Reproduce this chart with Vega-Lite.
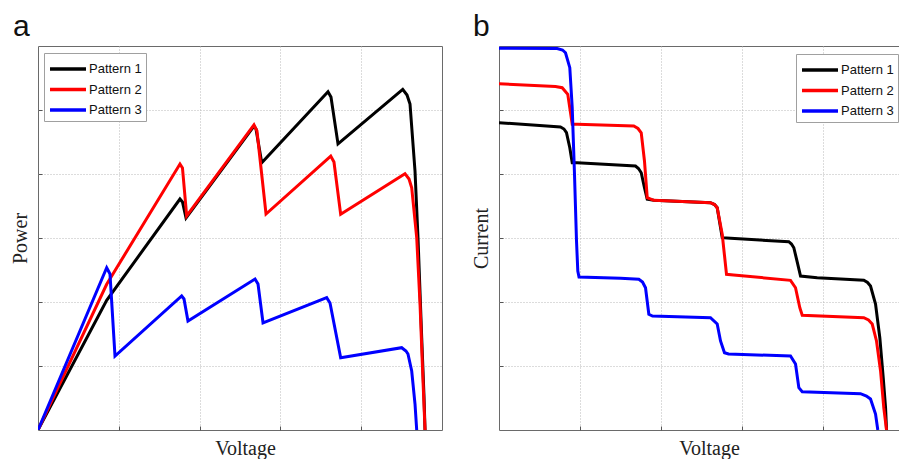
{
  "$schema": "https://vega.github.io/schema/vega-lite/v6.json",
  "padding": {"left": 10, "top": 11, "right": 0, "bottom": 0},
  "autosize": {"type": "pad"},
  "background": "white",
  "bounds": "flush",
  "spacing": 57,
  "datasets": {
    "pv": [
      {"pattern": "Pattern 1", "voltage": 0, "power": 0},
      {"pattern": "Pattern 1", "voltage": 0.850, "power": 2.027},
      {"pattern": "Pattern 1", "voltage": 1.757, "power": 3.609},
      {"pattern": "Pattern 1", "voltage": 1.788, "power": 3.5625},
      {"pattern": "Pattern 1", "voltage": 1.832, "power": 3.3125},
      {"pattern": "Pattern 1", "voltage": 2.673, "power": 4.75},
      {"pattern": "Pattern 1", "voltage": 2.698, "power": 4.703},
      {"pattern": "Pattern 1", "voltage": 2.769, "power": 4.177},
      {"pattern": "Pattern 1", "voltage": 3.589, "power": 5.286},
      {"pattern": "Pattern 1", "voltage": 3.626, "power": 5.203},
      {"pattern": "Pattern 1", "voltage": 3.713, "power": 4.469},
      {"pattern": "Pattern 1", "voltage": 4.514, "power": 5.323},
      {"pattern": "Pattern 1", "voltage": 4.567, "power": 5.234},
      {"pattern": "Pattern 1", "voltage": 4.604, "power": 5.094},
      {"pattern": "Pattern 1", "voltage": 4.666, "power": 4.047},
      {"pattern": "Pattern 1", "voltage": 4.703, "power": 3.0},
      {"pattern": "Pattern 1", "voltage": 4.749, "power": 1.4375},
      {"pattern": "Pattern 1", "voltage": 4.777, "power": 0.531},
      {"pattern": "Pattern 1", "voltage": 4.790, "power": 0},
      {"pattern": "Pattern 2", "voltage": 0, "power": 0},
      {"pattern": "Pattern 2", "voltage": 0.850, "power": 2.277},
      {"pattern": "Pattern 2", "voltage": 1.757, "power": 4.156},
      {"pattern": "Pattern 2", "voltage": 1.788, "power": 4.094},
      {"pattern": "Pattern 2", "voltage": 1.840, "power": 3.344},
      {"pattern": "Pattern 2", "voltage": 2.673, "power": 4.766},
      {"pattern": "Pattern 2", "voltage": 2.710, "power": 4.672},
      {"pattern": "Pattern 2", "voltage": 2.822, "power": 3.375},
      {"pattern": "Pattern 2", "voltage": 3.623, "power": 4.281},
      {"pattern": "Pattern 2", "voltage": 3.663, "power": 4.188},
      {"pattern": "Pattern 2", "voltage": 3.746, "power": 3.370},
      {"pattern": "Pattern 2", "voltage": 4.542, "power": 4.005},
      {"pattern": "Pattern 2", "voltage": 4.592, "power": 3.922},
      {"pattern": "Pattern 2", "voltage": 4.625, "power": 3.786},
      {"pattern": "Pattern 2", "voltage": 4.687, "power": 3.005},
      {"pattern": "Pattern 2", "voltage": 4.728, "power": 1.969},
      {"pattern": "Pattern 2", "voltage": 4.765, "power": 0.766},
      {"pattern": "Pattern 2", "voltage": 4.790, "power": 0},
      {"pattern": "Pattern 3", "voltage": 0, "power": 0},
      {"pattern": "Pattern 3", "voltage": 0.850, "power": 2.536},
      {"pattern": "Pattern 3", "voltage": 0.891, "power": 2.4375},
      {"pattern": "Pattern 3", "voltage": 0.953, "power": 1.156},
      {"pattern": "Pattern 3", "voltage": 1.778, "power": 2.094},
      {"pattern": "Pattern 3", "voltage": 1.807, "power": 2.047},
      {"pattern": "Pattern 3", "voltage": 1.856, "power": 1.703},
      {"pattern": "Pattern 3", "voltage": 2.686, "power": 2.359},
      {"pattern": "Pattern 3", "voltage": 2.723, "power": 2.281},
      {"pattern": "Pattern 3", "voltage": 2.785, "power": 1.672},
      {"pattern": "Pattern 3", "voltage": 3.573, "power": 2.067},
      {"pattern": "Pattern 3", "voltage": 3.614, "power": 1.984},
      {"pattern": "Pattern 3", "voltage": 3.746, "power": 1.130},
      {"pattern": "Pattern 3", "voltage": 4.501, "power": 1.286},
      {"pattern": "Pattern 3", "voltage": 4.554, "power": 1.234},
      {"pattern": "Pattern 3", "voltage": 4.579, "power": 1.1875},
      {"pattern": "Pattern 3", "voltage": 4.625, "power": 0.922},
      {"pattern": "Pattern 3", "voltage": 4.666, "power": 0.406},
      {"pattern": "Pattern 3", "voltage": 4.687, "power": 0}
    ],
    "iv": [
      {"pattern": "Pattern 1", "voltage": 0, "current": 4.802},
      {"pattern": "Pattern 1", "voltage": 0.760, "current": 4.734},
      {"pattern": "Pattern 1", "voltage": 0.803, "current": 4.703},
      {"pattern": "Pattern 1", "voltage": 0.834, "current": 4.645},
      {"pattern": "Pattern 1", "voltage": 0.875, "current": 4.411},
      {"pattern": "Pattern 1", "voltage": 0.905, "current": 4.177},
      {"pattern": "Pattern 1", "voltage": 0.967, "current": 4.177},
      {"pattern": "Pattern 1", "voltage": 1.687, "current": 4.125},
      {"pattern": "Pattern 1", "voltage": 1.724, "current": 4.086},
      {"pattern": "Pattern 1", "voltage": 1.758, "current": 4.020},
      {"pattern": "Pattern 1", "voltage": 1.798, "current": 3.786},
      {"pattern": "Pattern 1", "voltage": 1.832, "current": 3.605},
      {"pattern": "Pattern 1", "voltage": 1.913, "current": 3.589},
      {"pattern": "Pattern 1", "voltage": 2.614, "current": 3.552},
      {"pattern": "Pattern 1", "voltage": 2.664, "current": 3.523},
      {"pattern": "Pattern 1", "voltage": 2.697, "current": 3.473},
      {"pattern": "Pattern 1", "voltage": 2.759, "current": 3.005},
      {"pattern": "Pattern 1", "voltage": 2.862, "current": 2.995},
      {"pattern": "Pattern 1", "voltage": 3.582, "current": 2.942},
      {"pattern": "Pattern 1", "voltage": 3.615, "current": 2.906},
      {"pattern": "Pattern 1", "voltage": 3.644, "current": 2.848},
      {"pattern": "Pattern 1", "voltage": 3.693, "current": 2.589},
      {"pattern": "Pattern 1", "voltage": 3.727, "current": 2.406},
      {"pattern": "Pattern 1", "voltage": 3.933, "current": 2.380},
      {"pattern": "Pattern 1", "voltage": 4.509, "current": 2.339},
      {"pattern": "Pattern 1", "voltage": 4.555, "current": 2.305},
      {"pattern": "Pattern 1", "voltage": 4.592, "current": 2.25},
      {"pattern": "Pattern 1", "voltage": 4.654, "current": 1.969},
      {"pattern": "Pattern 1", "voltage": 4.707, "current": 1.442},
      {"pattern": "Pattern 1", "voltage": 4.749, "current": 0.817},
      {"pattern": "Pattern 1", "voltage": 4.778, "current": 0.348},
      {"pattern": "Pattern 1", "voltage": 4.790, "current": 0},
      {"pattern": "Pattern 2", "voltage": 0, "current": 5.411},
      {"pattern": "Pattern 2", "voltage": 0.698, "current": 5.367},
      {"pattern": "Pattern 2", "voltage": 0.781, "current": 5.348},
      {"pattern": "Pattern 2", "voltage": 0.850, "current": 5.245},
      {"pattern": "Pattern 2", "voltage": 0.884, "current": 4.958},
      {"pattern": "Pattern 2", "voltage": 0.905, "current": 4.777},
      {"pattern": "Pattern 2", "voltage": 0.967, "current": 4.777},
      {"pattern": "Pattern 2", "voltage": 1.666, "current": 4.75},
      {"pattern": "Pattern 2", "voltage": 1.718, "current": 4.711},
      {"pattern": "Pattern 2", "voltage": 1.758, "current": 4.645},
      {"pattern": "Pattern 2", "voltage": 1.798, "current": 4.203},
      {"pattern": "Pattern 2", "voltage": 1.832, "current": 3.630},
      {"pattern": "Pattern 2", "voltage": 1.913, "current": 3.589},
      {"pattern": "Pattern 2", "voltage": 2.614, "current": 3.552},
      {"pattern": "Pattern 2", "voltage": 2.664, "current": 3.523},
      {"pattern": "Pattern 2", "voltage": 2.697, "current": 3.473},
      {"pattern": "Pattern 2", "voltage": 2.759, "current": 3.058},
      {"pattern": "Pattern 2", "voltage": 2.812, "current": 2.433},
      {"pattern": "Pattern 2", "voltage": 2.899, "current": 2.422},
      {"pattern": "Pattern 2", "voltage": 3.603, "current": 2.339},
      {"pattern": "Pattern 2", "voltage": 3.665, "current": 2.223},
      {"pattern": "Pattern 2", "voltage": 3.718, "current": 1.911},
      {"pattern": "Pattern 2", "voltage": 3.748, "current": 1.792},
      {"pattern": "Pattern 2", "voltage": 4.509, "current": 1.755},
      {"pattern": "Pattern 2", "voltage": 4.567, "current": 1.719},
      {"pattern": "Pattern 2", "voltage": 4.613, "current": 1.656},
      {"pattern": "Pattern 2", "voltage": 4.666, "current": 1.391},
      {"pattern": "Pattern 2", "voltage": 4.716, "current": 0.922},
      {"pattern": "Pattern 2", "voltage": 4.756, "current": 0.348},
      {"pattern": "Pattern 2", "voltage": 4.790, "current": 0},
      {"pattern": "Pattern 3", "voltage": 0, "current": 5.964},
      {"pattern": "Pattern 3", "voltage": 0.719, "current": 5.961},
      {"pattern": "Pattern 3", "voltage": 0.785, "current": 5.9375},
      {"pattern": "Pattern 3", "voltage": 0.822, "current": 5.895},
      {"pattern": "Pattern 3", "voltage": 0.875, "current": 5.661},
      {"pattern": "Pattern 3", "voltage": 0.905, "current": 5.036},
      {"pattern": "Pattern 3", "voltage": 0.933, "current": 4.0},
      {"pattern": "Pattern 3", "voltage": 0.958, "current": 2.953},
      {"pattern": "Pattern 3", "voltage": 0.974, "current": 2.484},
      {"pattern": "Pattern 3", "voltage": 0.989, "current": 2.391},
      {"pattern": "Pattern 3", "voltage": 1.502, "current": 2.370},
      {"pattern": "Pattern 3", "voltage": 1.728, "current": 2.355},
      {"pattern": "Pattern 3", "voltage": 1.774, "current": 2.3125},
      {"pattern": "Pattern 3", "voltage": 1.811, "current": 2.223},
      {"pattern": "Pattern 3", "voltage": 1.852, "current": 1.808},
      {"pattern": "Pattern 3", "voltage": 1.897, "current": 1.781},
      {"pattern": "Pattern 3", "voltage": 2.614, "current": 1.755},
      {"pattern": "Pattern 3", "voltage": 2.697, "current": 1.656},
      {"pattern": "Pattern 3", "voltage": 2.738, "current": 1.391},
      {"pattern": "Pattern 3", "voltage": 2.787, "current": 1.208},
      {"pattern": "Pattern 3", "voltage": 2.837, "current": 1.1875},
      {"pattern": "Pattern 3", "voltage": 3.603, "current": 1.156},
      {"pattern": "Pattern 3", "voltage": 3.665, "current": 1.031},
      {"pattern": "Pattern 3", "voltage": 3.706, "current": 0.661},
      {"pattern": "Pattern 3", "voltage": 3.748, "current": 0.598},
      {"pattern": "Pattern 3", "voltage": 4.468, "current": 0.567},
      {"pattern": "Pattern 3", "voltage": 4.542, "current": 0.531},
      {"pattern": "Pattern 3", "voltage": 4.592, "current": 0.484},
      {"pattern": "Pattern 3", "voltage": 4.654, "current": 0.25},
      {"pattern": "Pattern 3", "voltage": 4.682, "current": 0}
    ]
  },
  "hconcat": [
    {
      "width": 404,
      "height": 384,
      "title": {"text": "a", "anchor": "start", "frame": "group", "dx": -25, "offset": 4, "fontSize": 30, "font": "Liberation Sans", "fontWeight": "normal", "color": "#111111"},
      "data": {"name": "pv"},
      "mark": {"type": "line", "strokeWidth": 3, "interpolate": "linear", "clip": true},
      "encoding": {
        "x": {"field": "voltage", "type": "quantitative", "scale": {"domain": [0, 5], "nice": false, "zero": false}, "axis": {"title": "Voltage", "values": [1, 2, 3, 4], "titleX": 207}},
        "y": {"field": "power", "type": "quantitative", "scale": {"domain": [0, 6], "nice": false}, "axis": {"title": "Power", "values": [1, 2, 3, 4, 5]}},
        "color": {"field": "pattern", "type": "nominal", "scale": {"domain": ["Pattern 1", "Pattern 2", "Pattern 3"], "range": ["#000000", "#ff0000", "#0000ff"]}, "legend": {"legendX": 6, "legendY": 7}}
      }
    },
    {
      "width": 400,
      "height": 384,
      "title": {"text": "b", "anchor": "start", "frame": "group", "dx": -26, "offset": 4, "fontSize": 30, "font": "Liberation Sans", "fontWeight": "normal", "color": "#111111"},
      "data": {"name": "iv"},
      "mark": {"type": "line", "strokeWidth": 3, "interpolate": "linear", "clip": true},
      "encoding": {
        "x": {"field": "voltage", "type": "quantitative", "scale": {"domain": [0, 4.944], "nice": false, "zero": false}, "axis": {"title": "Voltage", "values": [1, 2, 3, 4], "titleX": 210}},
        "y": {"field": "current", "type": "quantitative", "scale": {"domain": [0, 6], "nice": false}, "axis": {"title": "Current", "values": [1, 2, 3, 4, 5]}},
        "color": {"field": "pattern", "type": "nominal", "scale": {"domain": ["Pattern 1", "Pattern 2", "Pattern 3"], "range": ["#000000", "#ff0000", "#0000ff"]}, "legend": {"legendX": 297, "legendY": 8}}
      }
    }
  ],
  "resolve": {"legend": {"color": "independent"}, "scale": {"color": "independent"}},
  "config": {
    "view": {"stroke": "#6a6a6a", "strokeWidth": 1},
    "axis": {
      "labels": false,
      "domain": false,
      "ticks": true,
      "tickSize": -4,
      "tickColor": "#555555",
      "grid": true,
      "gridColor": "#b8b8b8",
      "gridDash": [1, 2],
      "gridWidth": 1,
      "titleFont": "Liberation Serif",
      "titleFontSize": 20,
      "titleFontWeight": "normal",
      "titleColor": "#222222"
    },
    "axisX": {"titlePadding": 8},
    "axisY": {"titlePadding": 7},
    "legend": {
      "orient": "none",
      "title": null,
      "direction": "vertical",
      "symbolType": "M-1,0H2.6",
      "symbolStrokeWidth": 3.5,
      "symbolSize": 400,
      "labelFont": "Liberation Sans",
      "labelFontSize": 13,
      "labelColor": "#111111",
      "labelOffset": 17,
      "fillColor": "white",
      "strokeColor": "#a0a0a0",
      "padding": 4,
      "rowPadding": 1.5,
      "cornerRadius": 0
    }
  }
}
